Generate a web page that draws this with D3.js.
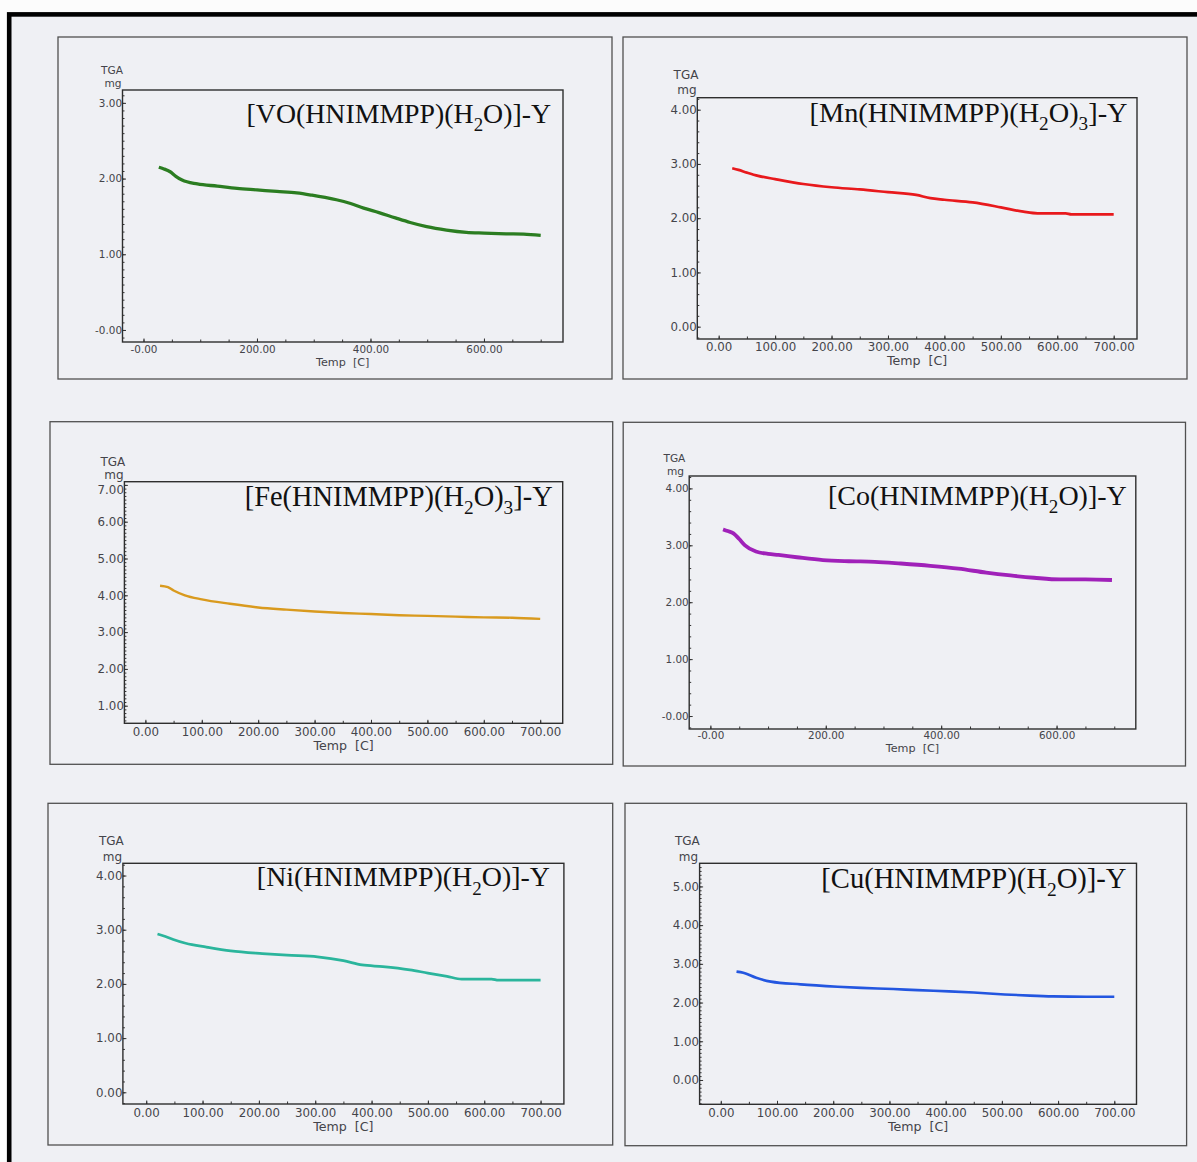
<!DOCTYPE html>
<html>
<head>
<meta charset="utf-8">
<script src="https://cdn.jsdelivr.net/npm/d3@7"></script>
<style>
  html, body { margin: 0; padding: 0; background: #ffffff; }
  svg { display: block; }
</style>
</head>
<body>
<svg id="chart" width="1197" height="1162"></svg>
<script>
// Thermogravimetric curves of the six zeolite-Y encapsulated complexes:
// temperature (°C) against residual mass (mg).

const compounds = ["VO", "Mn", "Fe", "Co", "Ni", "Cu"];

// [temperature, mass] readings for each complex
const tgaVO = [[27,2.15],[35,2.13],[47,2.09],[57,2.03],[68,1.98],[95,1.93],[130,1.90],[165,1.87],[200,1.85],[235,1.83],[270,1.81],[297,1.78],[320,1.75],[340,1.72],[365,1.67],[388,1.61],[415,1.55],[444,1.48],[470,1.42],[499,1.365],[534,1.32],[569,1.29],[600,1.28],[639,1.27],[670,1.265],[700,1.25]];
const tgaMn = [[24,2.92],[35,2.89],[50,2.84],[70,2.78],[100,2.72],[150,2.63],[200,2.57],[250,2.53],[300,2.48],[350,2.43],[375,2.37],[400,2.34],[450,2.29],[500,2.20],[540,2.12],[565,2.09],[615,2.09],[625,2.07],[700,2.07]];
const tgaFe = [[26,4.26],[40,4.22],[50,4.13],[70,4.00],[100,3.89],[150,3.77],[200,3.67],[250,3.61],[300,3.56],[350,3.52],[400,3.49],[450,3.46],[500,3.44],[550,3.42],[600,3.40],[650,3.39],[700,3.36]];
const tgaCo = [[22,3.28],[30,3.25],[40,3.21],[50,3.11],[60,3.00],[79,2.89],[100,2.85],[118,2.83],[150,2.79],[195,2.74],[240,2.72],[285,2.71],[330,2.68],[381,2.64],[430,2.59],[478,2.52],[520,2.47],[561,2.43],[606,2.40],[650,2.40],[696,2.39]];
const tgaNi = [[20,2.92],[30,2.89],[48,2.82],[70,2.75],[107,2.68],[150,2.61],[206,2.56],[250,2.53],[304,2.50],[350,2.43],[383,2.35],[420,2.32],[468,2.26],[500,2.20],[534,2.14],[560,2.09],[613,2.09],[625,2.07],[700,2.07]];
const tgaCu = [[28,2.80],[40,2.77],[63,2.64],[89,2.54],[142,2.47],[208,2.41],[250,2.38],[307,2.35],[350,2.32],[406,2.29],[450,2.26],[505,2.21],[550,2.18],[591,2.16],[650,2.15],[700,2.15]];

// titles: alternating normal / subscript pieces
const titleVO = ["[VO(HNIMMPP)(H", "2", "O)]-Y"];
const titleMn = ["[Mn(HNIMMPP)(H", "2", "O)", "3", "]-Y"];
const titleFe = ["[Fe(HNIMMPP)(H", "2", "O)", "3", "]-Y"];
const titleCo = ["[Co(HNIMMPP)(H", "2", "O)]-Y"];
const titleNi = ["[Ni(HNIMMPP)(H", "2", "O)]-Y"];
const titleCu = ["[Cu(HNIMMPP)(H", "2", "O)]-Y"];

// tick labels
const xLabels100 = ["0.00","100.00","200.00","300.00","400.00","500.00","600.00","700.00"];
const xLabels200 = ["-0.00","200.00","400.00","600.00"];
const yLabelsVO = ["-0.00","1.00","2.00","3.00"];
const yLabelsMn = ["0.00","1.00","2.00","3.00","4.00"];
const yLabelsFe = ["1.00","2.00","3.00","4.00","5.00","6.00","7.00"];
const yLabelsCo = ["-0.00","1.00","2.00","3.00","4.00"];
const yLabelsNi = ["0.00","1.00","2.00","3.00","4.00"];
const yLabelsCu = ["0.00","1.00","2.00","3.00","4.00","5.00"];

const yAxisName = ["TGA", "mg"];
const xAxisName = "Temp  [C]";

const seriesData = { VO: tgaVO, Mn: tgaMn, Fe: tgaFe, Co: tgaCo, Ni: tgaNi, Cu: tgaCu };
const titles = { VO: titleVO, Mn: titleMn, Fe: titleFe, Co: titleCo, Ni: titleNi, Cu: titleCu };
const xLabels = { VO: xLabels200, Mn: xLabels100, Fe: xLabels100, Co: xLabels200, Ni: xLabels100, Cu: xLabels100 };
const yLabels = { VO: yLabelsVO, Mn: yLabelsMn, Fe: yLabelsFe, Co: yLabelsCo, Ni: yLabelsNi, Cu: yLabelsCu };

// panel geometry and styling
const layout = {
  VO: { box:[58,37,612,379],   plot:[122.5,90,563,342],    xd:[-37.0,739.3], yd:[-0.159,3.170], yMinor:0.1,
        color:"#2b7d21", lw:3.3, fs:10.4, nameFs:10.6, tempFs:11.2, xPad:3.4, titleFs:27.8, titleDy:33, titleInset:12,
        tga:[-10.5,-20,-7], topLabelShift:0 },
  Mn: { box:[623,37,1187,379], plot:[697.3,97.7,1137,339], xd:[-37.9,741.3], yd:[-0.227,4.221], yMinor:0.2,
        color:"#e8191c", lw:2.7, fs:11.8, nameFs:12, tempFs:12.6, xPad:3.6, titleFs:28.3, titleDy:24, titleInset:9.5,
        tga:[-11.3,-22.7,-7.5], topLabelShift:0 },
  Fe: { box:[50,421.7,612.7,764.3], plot:[124.4,481.7,562.7,723.3], xd:[-37.2,739.9], yd:[0.522,7.087], yMinor:0.1,
        color:"#d99a1e", lw:2.4, fs:11.8, nameFs:12, tempFs:12.6, xPad:4.3, titleFs:28.4, titleDy:24, titleInset:10,
        tga:[-11.5,-20,-6.5], topLabelShift:4.5 },
  Co: { box:[623.2,422.3,1185.5,766], plot:[689.2,476,1135.8,729], xd:[-36.7,737.3], yd:[-0.228,4.218], yMinor:0.2,
        color:"#a021b9", lw:3.8, fs:10.4, nameFs:10.6, tempFs:11.2, xPad:2.4, titleFs:28.0, titleDy:29, titleInset:9,
        tga:[-14.8,-17.7,-5], topLabelShift:0 },
  Ni: { box:[48,803.3,612.7,1145], plot:[122.9,863.3,563.9,1104], xd:[-41.4,741.4], yd:[-0.216,4.226], yMinor:0.2,
        color:"#2bb59c", lw:2.7, fs:11.8, nameFs:12, tempFs:12.6, xPad:4.6, titleFs:27.9, titleDy:23, titleInset:14,
        tga:[-11.5,-22.3,-6.6], topLabelShift:0 },
  Cu: { box:[625,803.3,1186.6,1145.7], plot:[699.6,863.3,1136.5,1104.3], xd:[-37.7,739.5], yd:[-0.628,5.597], yMinor:0.1,
        color:"#2356e0", lw:2.6, fs:11.8, nameFs:12, tempFs:12.6, xPad:4.3, titleFs:28.6, titleDy:24.5, titleInset:10,
        tga:[-12.2,-22.3,-6.6], topLabelShift:0 }
};

const svg = d3.select("#chart");
const bg = "#eff0f4";
const textGrey = "#44444a";

// page background with heavy black frame
svg.append("rect").attr("x", 0).attr("y", 0).attr("width", 1197).attr("height", 1162).attr("fill", "#fcfcfc");
svg.append("rect").attr("x", 9.2).attr("y", 14.4).attr("width", 1200).attr("height", 1160)
  .attr("fill", bg).attr("stroke", "#000").attr("stroke-width", 4.6);

function range(a, b, step) {
  const out = [];
  const n = Math.round((b - a) / step);
  for (let i = 0; i <= n; i++) out.push(+(a + i * step).toFixed(4));
  return out;
}

compounds.forEach(key => {
  const L = layout[key];
  const [bx0, by0, bx1, by1] = L.box;
  const [px0, py0, px1, py1] = L.plot;
  const g = svg.append("g").attr("class", "panel-" + key);

  g.append("rect").attr("x", bx0).attr("y", by0).attr("width", bx1 - bx0).attr("height", by1 - by0)
    .attr("fill", bg).attr("stroke", "#505050").attr("stroke-width", 1.3);

  const x = d3.scaleLinear().domain(L.xd).range([px0, px1]);
  const y = d3.scaleLinear().domain(L.yd).range([py1, py0]);

  // minor ticks
  const xMinor = range(0, 700, 50).filter(v => v >= L.xd[0] && v <= L.xd[1]);
  const yMinorVals = range(Math.ceil(L.yd[0] / L.yMinor) * L.yMinor, L.yd[1], L.yMinor)
    .filter(v => v >= L.yd[0] && v <= L.yd[1]);

  g.append("g").attr("transform", `translate(0,${py1})`)
    .call(d3.axisBottom(x).tickValues(xMinor).tickSizeInner(-2.5).tickSizeOuter(0).tickFormat(""))
    .call(a => a.select(".domain").remove())
    .call(a => a.selectAll("line").attr("stroke", "#333"));
  g.append("g").attr("transform", `translate(${px0},0)`)
    .call(d3.axisLeft(y).tickValues(yMinorVals).tickSizeInner(-2).tickSizeOuter(0).tickFormat(""))
    .call(a => a.select(".domain").remove())
    .call(a => a.selectAll("line").attr("stroke", "#333"));

  // major ticks with labels
  const xl = xLabels[key], yl = yLabels[key];
  g.append("g").attr("transform", `translate(0,${py1})`)
    .call(d3.axisBottom(x).tickValues(xl.map(Number)).tickSizeInner(-3.5).tickSizeOuter(0)
      .tickPadding(L.xPad).tickFormat((d, i) => xl[i]))
    .call(a => a.select(".domain").remove())
    .call(a => a.selectAll("line").attr("stroke", "#333"))
    .call(a => a.selectAll("text").attr("font-family", "DejaVu Sans, sans-serif")
      .attr("font-size", L.fs).attr("fill", textGrey));
  g.append("g").attr("transform", `translate(${px0},0)`)
    .call(d3.axisLeft(y).tickValues(yl.map(Number)).tickSizeInner(-3.5).tickSizeOuter(0)
      .tickPadding(0.5).tickFormat((d, i) => yl[i]))
    .call(a => a.select(".domain").remove())
    .call(a => a.selectAll("line").attr("stroke", "#333"))
    .call(a => a.selectAll("text").attr("font-family", "DejaVu Sans, sans-serif")
      .attr("font-size", L.fs).attr("fill", textGrey)
      .attr("transform", (d, i) => i === yl.length - 1 ? `translate(0,${L.topLabelShift})` : null));

  // plot frame
  g.append("rect").attr("x", px0).attr("y", py0).attr("width", px1 - px0).attr("height", py1 - py0)
    .attr("fill", "none").attr("stroke", "#2e2e2e").attr("stroke-width", 1.4);

  // curve
  const line = d3.line().x(d => x(d[0])).y(d => y(d[1])).curve(d3.curveMonotoneX);
  g.append("path").datum(seriesData[key]).attr("d", line)
    .attr("fill", "none").attr("stroke", L.color).attr("stroke-width", L.lw)
    .attr("stroke-linecap", "butt").attr("stroke-linejoin", "round");

  // axis names
  g.append("text").attr("x", px0 + L.tga[0]).attr("y", py0 + L.tga[1]).attr("dy", "0.35em")
    .attr("text-anchor", "middle").attr("font-family", "DejaVu Sans, sans-serif")
    .attr("font-size", L.nameFs).attr("fill", textGrey).text(yAxisName[0]);
  g.append("text").attr("x", px0 + L.tga[0] + 1).attr("y", py0 + L.tga[2]).attr("dy", "0.35em")
    .attr("text-anchor", "middle").attr("font-family", "DejaVu Sans, sans-serif")
    .attr("font-size", L.nameFs).attr("fill", textGrey).text(yAxisName[1]);
  g.append("text").attr("x", (px0 + px1) / 2).attr("y", py1 + (L.xPad + L.fs * 0.35) + 13.5).attr("dy", "0.35em")
    .attr("text-anchor", "middle").attr("font-family", "DejaVu Sans, sans-serif")
    .attr("font-size", L.tempFs).attr("fill", textGrey).attr("xml:space", "preserve").text(xAxisName);

  // compound title with subscripts
  const t = g.append("text").attr("x", px1 - L.titleInset).attr("y", py0 + L.titleDy)
    .attr("text-anchor", "end").attr("font-family", "Liberation Serif, Times New Roman, serif")
    .attr("font-size", L.titleFs).attr("fill", "#111");
  let shifted = false;
  titles[key].forEach((piece, i) => {
    const isSub = i % 2 === 1;
    const sp = t.append("tspan").text(piece);
    const off = L.titleFs * 0.3;
    if (isSub) {
      sp.attr("font-size", L.titleFs * 0.68).attr("dy", off);
      shifted = true;
    } else if (shifted) {
      sp.attr("dy", -off);
      shifted = false;
    }
  });
});
</script>
</body>
</html>
